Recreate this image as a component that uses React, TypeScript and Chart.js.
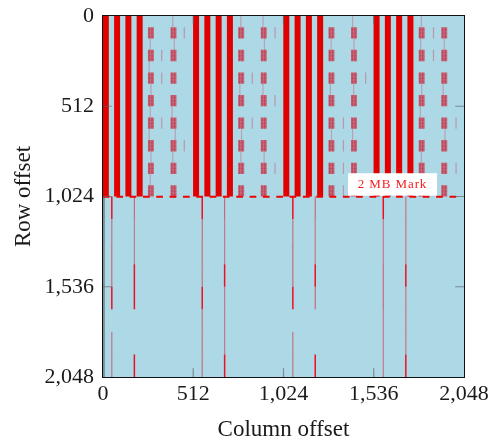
import React, { useEffect, useRef } from "react";
import { Chart, registerables } from "chart.js";

Chart.register(...registerables);

const axisTicks = [0, 512, 1024, 1536, 2048];
const stripeColumns = [0, 64, 128, 192, 512, 576, 640, 704, 1024, 1088, 1152, 1216, 1536, 1600, 1664, 1728];
const patchColumns = [256, 384, 768, 896, 1280, 1408, 1792, 1920];
const patchRows = [64, 192, 320, 448, 576, 704, 832, 960];
const faintPatches = [
  [333, 192], [333, 320], [333, 576], [461, 64], [461, 704],
  [847, 320], [847, 576], [976, 64], [976, 448], [976, 832],
  [1364, 576], [1364, 704], [1364, 832], [1364, 960], [1490, 320],
  [1875, 64], [1875, 192], [2003, 576], [2003, 832],
];
const connectors = [
  [268, 128, 192], [262, 256, 320], [272, 384, 448], [268, 512, 576], [262, 640, 704], [272, 768, 832], [268, 896, 960],
  [396, 0, 64], [404, 128, 192], [392, 512, 576], [410, 640, 704], [396, 768, 832],
  [782, 0, 64], [776, 384, 448], [786, 640, 704], [782, 768, 832],
  [908, 0, 64], [916, 128, 192], [908, 384, 448], [914, 768, 832],
  [1294, 128, 192], [1290, 384, 448], [1296, 640, 704],
  [1416, 0, 64], [1422, 384, 448], [1416, 640, 704], [1424, 128, 192],
  [1806, 0, 64], [1802, 128, 192], [1808, 384, 448], [1800, 512, 576], [1806, 768, 832],
  [1936, 128, 192], [1930, 384, 448], [1940, 640, 704],
];
const dashStarts = [0, 76, 151, 227, 302, 378, 454, 529, 605, 680, 756, 832, 907, 983, 1058, 1134, 1210, 1285, 1361, 1436, 1512, 1588, 1663, 1739, 1814, 1890, 1966];
const lowerStrong = [
  [50, 1024], [50, 1536], [178, 1408], [178, 1536], [178, 1920], [563, 1024], [563, 1536],
  [690, 1408], [690, 1920], [1077, 1024], [1077, 1536], [1204, 1408], [1204, 1920],
  [1590, 1024], [1718, 1408], [1718, 1920],
];
const lowerMedium = [
  [178, 1024], [690, 1024], [1204, 1024], [1204, 1536], [1590, 1408], [1590, 1536], [1077, 1280], [1077, 1408], [563, 1152], [50, 1280], [50, 1408],
];
const lowerFaint = [
  [50, 1152], [50, 1792], [50, 1920], [178, 1152], [178, 1280], [563, 1280], [563, 1408], [563, 1664], [563, 1792], [563, 1920],
  [690, 1152], [690, 1280], [690, 1536], [690, 1664], [690, 1792], [1077, 1152], [1077, 1792], [1077, 1920],
  [1204, 1152], [1204, 1280], [1590, 1152], [1590, 1280], [1590, 1664], [1590, 1792], [1590, 1920],
  [1718, 1024], [1718, 1152], [1718, 1280], [1718, 1536], [1718, 1664], [1718, 1792],
];
const labelText = "2 MB Mark";
const labelBox = { colStart: 1390, colEnd: 1895, rowStart: 892, rowEnd: 1019 };

const STRIPE = 32;
const PATCH = 32;
const ROWBLOCK = 64;
const LOWERBLOCK = 128;
const SERIF = "'Liberation Serif', serif";

type P = { x: number | null; y: number | null };
const seg = (list: number[][]): P[] => list.flatMap(([x0, y0, x1, y1]) => [
  { x: x0, y: y0 }, { x: x1, y: y1 }, { x: null, y: null },
]);
const layer = (data: P[], color: string, width: number) => ({
  type: "scatter" as const, data, showLine: true, borderColor: color, borderWidth: width,
  pointRadius: 0, borderCapStyle: "butt" as const, tension: 0, spanGaps: false, fill: false,
});

const plotBackground = {
  id: "plotBackground",
  beforeDatasetsDraw(chart: any) {
    const { ctx, chartArea: a } = chart;
    ctx.save();
    ctx.fillStyle = "#add8e6";
    ctx.fillRect(a.left, a.top, a.right - a.left, a.bottom - a.top);
    ctx.restore();
  },
  afterDraw(chart: any) {
    const { ctx, chartArea: a, scales } = chart;
    ctx.save();
    const x0 = scales.x.getPixelForValue(labelBox.colStart);
    const x1 = scales.x.getPixelForValue(labelBox.colEnd);
    const y0 = scales.y.getPixelForValue(labelBox.rowStart);
    const y1 = scales.y.getPixelForValue(labelBox.rowEnd);
    ctx.fillStyle = "#ffffff";
    ctx.fillRect(x0, y0, x1 - x0, y1 - y0);
    ctx.fillStyle = "#f41c1c";
    ctx.font = `13px ${SERIF}`;
    (ctx as any).letterSpacing = "0.9px";
    ctx.textAlign = "center";
    ctx.textBaseline = "middle";
    ctx.fillText(labelText, (x0 + x1) / 2, (y0 + y1) / 2 + 0.5);
    (ctx as any).letterSpacing = "0px";
    ctx.strokeStyle = "#111111";
    ctx.lineWidth = 1;
    ctx.strokeRect(a.left - 0.5, a.top - 0.5, a.right - a.left + 1, a.bottom - a.top + 1);
    ctx.restore();
  },
};

export default function App() {
  const ref = useRef<HTMLCanvasElement>(null);
  useEffect(() => {
    document.body.style.margin = "0";
    const stripePx = 6;
    const patchPx = 6;
    const stripes = seg(stripeColumns.map((c) => [c + STRIPE / 2, 0, c + STRIPE / 2, 1024]));
    const patches = seg(patchColumns.flatMap((c) => patchRows.map((r) => [c + PATCH / 2, r, c + PATCH / 2, r + ROWBLOCK])));
    const hatchV = seg(patchColumns.flatMap((c) => patchRows.flatMap((r) => [
      [c + 6, r, c + 6, r + ROWBLOCK], [c + 22, r, c + 22, r + ROWBLOCK],
    ])));
    const hatchH = seg(patchColumns.flatMap((c) => patchRows.flatMap((r) => [
      [c, r + 14, c + PATCH, r + 14], [c, r + 34, c + PATCH, r + 34], [c, r + 52, c + PATCH, r + 52],
    ])));
    const faint = seg(faintPatches.map(([c, r]) => [c, r, c, r + ROWBLOCK]));
    const conn = seg(connectors.map(([c, a, b]) => [c, a, c, b]));
    const dashes = seg(dashStarts.map((c) => [c, 1026, c + 38, 1026]));
    const vert = (l: number[][]) => seg(l.map(([c, r]) => [c, r, c, r + LOWERBLOCK]));
    const inner = 50;
    const gaugeTicks = seg([512, 1024, 1536].flatMap((t) => [
      [t, 2048, t, 2048 - inner], [t, 0, t, inner], [0, t, inner, t], [2048, t, 2048 - inner, t],
    ]));
    const leftEdge = seg([[5, 1024, 5, 2048]]);

    const chart = new Chart(ref.current!, {
      type: "scatter",
      data: {
        datasets: [
          layer(gaugeTicks, "rgba(95,100,105,0.65)", 1.2),
          layer(dashes, "#f00000", 2),
          layer(vert(lowerStrong), "#ee1020", 1.5),
          layer(vert(lowerMedium), "rgba(225,30,50,0.65)", 1.1),
          layer(vert(lowerFaint), "rgba(205,90,115,0.4)", 1),
          layer(leftEdge, "rgba(80,85,90,0.55)", 2),
          layer(stripes, "#e00000", stripePx),
          layer(hatchH, "rgba(170,40,60,0.25)", 1),
          layer(hatchV, "rgba(205,20,40,0.4)", 1.3),
          layer(patches, "rgba(212,45,65,0.62)", patchPx),
          layer(faint, "rgba(195,110,135,0.6)", 1.2),
          layer(conn, "rgba(195,110,135,0.5)", 1.2),
        ] as any,
      },
      plugins: [plotBackground],
      options: {
        animation: false,
        responsive: false,
        layout: { autoPadding: false, padding: { top: 16, right: 34, left: 0, bottom: 0 } },
        plugins: { legend: { display: false }, tooltip: { enabled: false } },
        scales: {
          x: {
            type: "linear", min: 0, max: 2048, position: "bottom",
            afterFit(s: any) { s.height = 63; },
            afterBuildTicks(s: any) { s.ticks = axisTicks.map((value) => ({ value })); },
            grid: { display: false },
            border: { display: false },
            ticks: {
              maxRotation: 0, autoSkip: false, padding: -4, color: "#1a1a1a",
              font: { family: SERIF, size: 22 },
              callback: (v: any) => Number(v).toLocaleString("en-US"),
            },
            title: {
              display: true, text: "Column offset", color: "#1a1a1a",
              font: { family: SERIF, size: 23 }, padding: { top: 0, bottom: -4 },
            },
          },
          y: {
            type: "linear", min: 0, max: 2048, reverse: true,
            afterFit(s: any) { s.width = 103; },
            afterBuildTicks(s: any) { s.ticks = axisTicks.map((value) => ({ value })); },
            grid: { display: false },
            border: { display: false },
            ticks: {
              autoSkip: false, padding: 1, color: "#1a1a1a",
              font: { family: SERIF, size: 22 },
              callback: (v: any) => Number(v).toLocaleString("en-US"),
            },
            title: {
              display: true, text: "Row offset", color: "#1a1a1a",
              font: { family: SERIF, size: 23 }, padding: { top: 10, bottom: 0 },
            },
          },
        },
      } as any,
    });
    return () => chart.destroy();
  }, []);
  return <canvas ref={ref} width={498} height={440} style={{ display: "block" }} />;
}
